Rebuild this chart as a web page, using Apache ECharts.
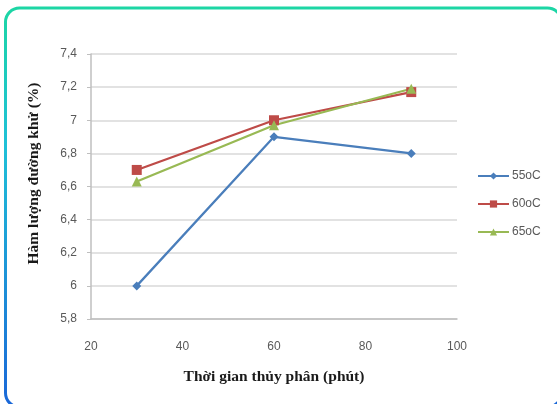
<!DOCTYPE html>
<html>
<head>
<meta charset="utf-8">
<script src="https://cdn.jsdelivr.net/npm/echarts@6/dist/echarts.min.js"></script>
<style>
  html, body { margin: 0; padding: 0; background: #ffffff; }
  #chart { width: 557px; height: 404px; }
</style>
</head>
<body>
<div id="chart"></div>
<script>
// Hydrolysis time (minutes) on the x axis
const times = [30, 60, 90];
// Reducing sugar content (%) for each hydrolysis temperature
const series55 = [6.0, 6.9, 6.8];
const series60 = [6.7, 7.0, 7.17];
const series65 = [6.63, 6.97, 7.19];
const seriesNames = ['55oC', '60oC', '65oC'];
const xTitle = 'Thời gian thủy phân (phút)';
const yTitle = 'Hàm lượng đường khử (%)';

const chart = echarts.init(document.getElementById('chart'), null, { renderer: 'canvas' });

function pairs(values) {
  return times.map((t, i) => [t, values[i]]);
}

const labelFont = { color: '#595959', fontSize: 12, fontFamily: 'Liberation Sans, Arial, sans-serif' };
const titleFont = { color: '#1a1a1a', fontSize: 15.5, fontWeight: 'bold', fontFamily: 'Liberation Serif, Times New Roman, serif' };

function lineSeries(name, values, color, symbol, size) {
  return {
    name: name,
    type: 'line',
    data: pairs(values),
    symbol: symbol,
    symbolSize: size,
    showAllSymbol: true,
    lineStyle: { color: color, width: 2.25 },
    itemStyle: { color: color },
    emphasis: { disabled: true },
    animation: false
  };
}

chart.setOption({
  backgroundColor: '#ffffff',
  animation: false,
  graphic: [{
    // rounded frame around the chart, running past the right and bottom edges
    type: 'rect',
    shape: { x: 5.5, y: 8, width: 556, height: 399, r: 14 },
    style: {
      fill: 'transparent',
      lineWidth: 3,
      stroke: new echarts.graphic.LinearGradient(0, 0, 0, 1, [
        { offset: 0, color: '#1cd6a4' },
        { offset: 0.35, color: '#1fc0d8' },
        { offset: 1, color: '#1a66d8' }
      ])
    },
    z: 100
  }],
  grid: { left: 91, right: 100, top: 54, bottom: 85 },
  legend: {
    orient: 'vertical',
    left: 472,
    top: 165,
    itemWidth: 31,
    itemHeight: 9,
    itemGap: 16,
    textStyle: { color: '#595959', fontSize: 12, fontFamily: 'Liberation Sans, Arial, sans-serif', padding: [0, 0, 0, -2] },
    data: seriesNames
  },
  xAxis: {
    type: 'value',
    min: 20,
    max: 100,
    interval: 20,
    name: xTitle,
    nameLocation: 'middle',
    nameGap: 50,
    nameTextStyle: titleFont,
    axisLine: { show: true, lineStyle: { color: '#bfbfbf', width: 1.5 } },
    axisTick: { show: false },
    axisLabel: Object.assign({ margin: 22 }, labelFont),
    splitLine: { show: false }
  },
  yAxis: {
    type: 'value',
    min: 5.8,
    max: 7.4,
    interval: 0.2,
    name: yTitle,
    nameLocation: 'middle',
    nameGap: 49,
    nameTextStyle: Object.assign({ padding: [0, 0, 0, 26] }, titleFont),
    axisLine: { show: true, lineStyle: { color: '#bfbfbf', width: 1.5 } },
    axisTick: { show: true, length: 4, lineStyle: { color: '#bfbfbf' } },
    axisLabel: Object.assign({
      margin: 14,
      formatter: v => String(Math.round(v * 10) / 10).replace('.', ',')
    }, labelFont),
    splitLine: { show: true, lineStyle: { color: '#d9d9d9', width: 1.5 } }
  },
  series: [
    lineSeries(seriesNames[0], series55, '#4a7ebb', 'diamond', 9),
    lineSeries(seriesNames[1], series60, '#be4b48', 'rect', 10),
    lineSeries(seriesNames[2], series65, '#98b954', 'triangle', 10)
  ]
});
</script>
</body>
</html>
